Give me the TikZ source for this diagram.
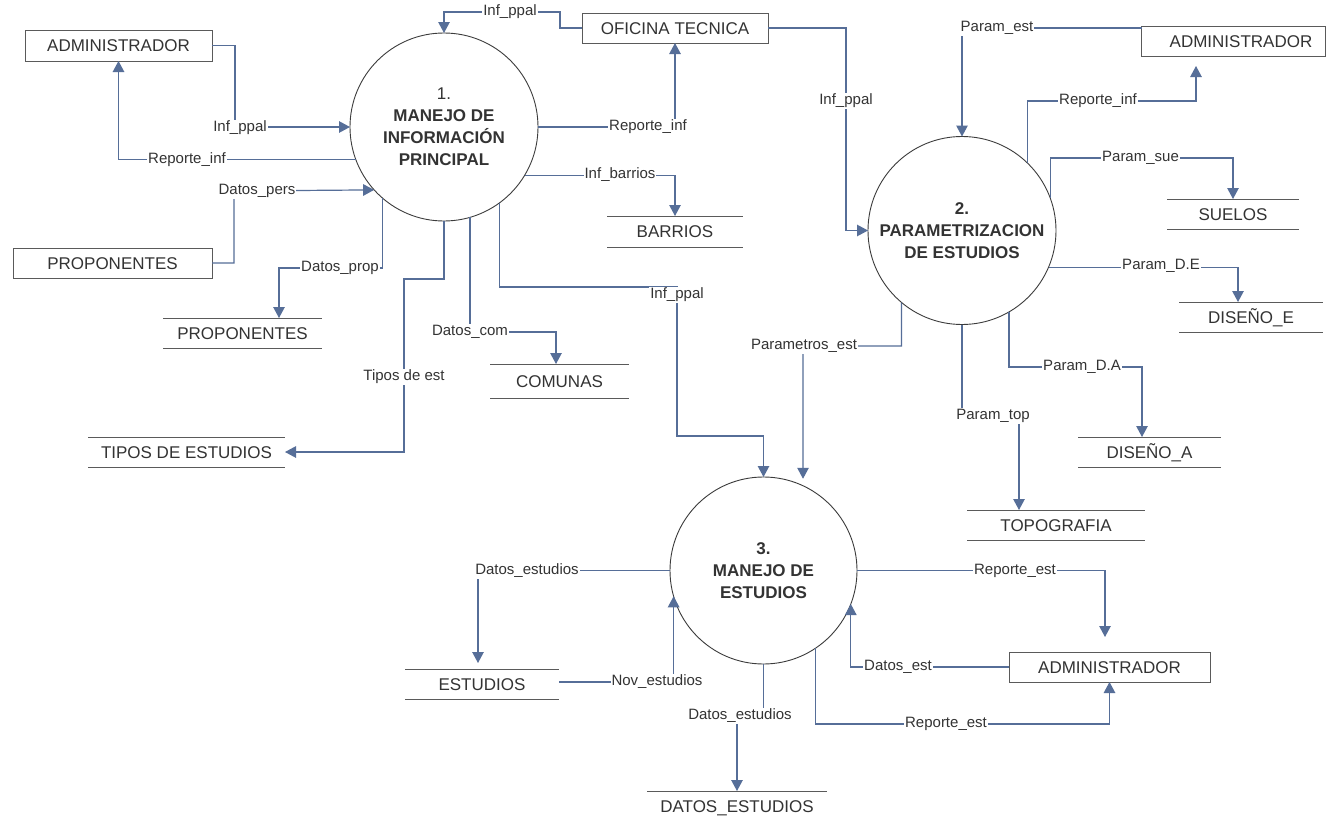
\documentclass[tikz,border=0pt]{standalone}
\usepackage{fontspec}
\setmainfont{Liberation Sans}
\usetikzlibrary{arrows.meta}
\definecolor{flowc}{RGB}{86,110,152}
\definecolor{txtc}{RGB}{51,51,51}
\definecolor{edgec}{RGB}{90,90,90}
\definecolor{ringc}{RGB}{60,60,60}

\begin{document}
\begin{tikzpicture}[x=1pt,y=-1pt,
  entity/.style={draw=edgec, line width=1pt, inner sep=0pt, outer sep=0pt, text=txtc,
    font=\fontsize{17}{20}\selectfont, text height=12.2pt, text depth=0pt},
  store/.style={inner sep=0pt, outer sep=0pt, text=txtc,
    font=\fontsize{17}{20}\selectfont, text height=12.2pt, text depth=0pt},
  storeline/.style={draw=edgec, line width=1pt},
  proc/.style={circle, draw=ringc, line width=0.9pt, minimum size=188pt, inner sep=0pt,
    outer sep=0pt, text=txtc, align=center, font=\fontsize{17}{22}\selectfont},
  flow/.style={draw=flowc, line width=1.2pt, -{Triangle[length=11pt,width=11.5pt]}},
  lbl/.style={fill=white, inner sep=1pt, text=txtc, font=\fontsize{15}{18}\selectfont,
    text height=11pt, text depth=3.3pt}]

\useasboundingbox (0,0) rectangle (1326,819);
\fill[white] (0,0) rectangle (1326,819);
\clip (0,0) rectangle (1326,819);

% processes
\node[proc] (p1) at (444,127) {1.\\\textbf{MANEJO DE}\\\textbf{INFORMACIÓN}\\\textbf{PRINCIPAL}};
\node[proc] (p2) at (962,230.5) {\textbf{2.}\\\textbf{PARAMETRIZACION}\\\textbf{DE ESTUDIOS}};
\node[proc, minimum size=187pt] (p3) at (763.5,570.5) {\textbf{3.}\\\textbf{MANEJO DE}\\\textbf{ESTUDIOS}};

% external entities
\node[entity, minimum width=187pt, minimum height=31pt] (adm1) at (118.5,45.5) {ADMINISTRADOR};
\node[entity, minimum width=199pt, minimum height=30pt] (prop1) at (112.5,263) {PROPONENTES};
\node[entity, minimum width=186pt, minimum height=30pt] (ot) at (675,28) {OFICINA TECNICA};
\node[entity, minimum width=184pt, minimum height=30pt] (adm2) at (1233.5,41) {\hspace*{15pt}ADMINISTRADOR};
\node[entity, minimum width=201pt, minimum height=30pt] (adm3) at (1109.5,667) {ADMINISTRADOR};

% data stores
\node[store, minimum width=136pt, minimum height=31pt] (sbar) at (675,231.5) {BARRIOS};
\node[store, minimum width=159pt, minimum height=30pt] (sprop) at (242.5,333) {PROPONENTES};
\node[store, minimum width=197pt, minimum height=30pt] (stipos) at (186.5,452) {TIPOS DE ESTUDIOS};
\node[store, minimum width=139pt, minimum height=34pt] (scom) at (559.5,381) {COMUNAS};
\node[store, minimum width=132pt, minimum height=30pt] (ssue) at (1233,214) {SUELOS};
\node[store, minimum width=144pt, minimum height=30pt] (sde) at (1251,317) {DISEÑO\_E};
\node[store, minimum width=143pt, minimum height=30pt] (sda) at (1149.5,452) {DISEÑO\_A};
\node[store, minimum width=178pt, minimum height=30pt] (stopo) at (1056,525) {TOPOGRAFIA};
\node[store, minimum width=154pt, minimum height=30pt] (sest) at (482,684) {ESTUDIOS};
\node[store, minimum width=180pt, minimum height=30pt] (sdat) at (737,806) {DATOS\_ESTUDIOS};

\foreach \s in {sbar,sprop,stipos,scom,ssue,sde,sda,stopo,sest,sdat}
  \draw[storeline] (\s.north west) -- (\s.north east) (\s.south west) -- (\s.south east);

% data flows around process 1
\draw[flow] (adm1.east) -| (235,127) -- (p1.west);
\draw[flow] (p1.200.6) -| (adm1.south);
\draw[flow] (prop1.east) -| (234,191) -- (p1.222.9);
\draw[flow] (p1.229.5) |- (279,268) -- ([xshift=36.5pt]sprop.north);
\draw[flow] (p1.south) |- (404,279) |- (stipos.east);
\draw[flow] (p1.286.1) |- (556,332) -- ([xshift=-3.5pt]scom.north);
\draw[flow] (p1.306.6) |- (677,287) |- (763.5,436) -- (p3.north);
\draw[flow] (p1.329.3) -| (sbar.north);
\draw[flow] (p1.east) -| (ot.south);
\draw[flow] (ot.west) -| (560,12) -| (p1.north);
\draw[flow] (ot.east) -| ([xshift=-22pt]p2.west) -- (p2.west);

% data flows around process 2
\draw[flow] ([yshift=13pt]adm2.west) -| (p2.north);
\draw[flow, shorten >=10pt] (p2.46.2) |- (1196,101) -- ([xshift=-37.5pt]adm2.south);
\draw[flow] (p2.20.6) |- (1233,158) -- (ssue.north);
\draw[flow] (p2.337.8) -| ([xshift=-13pt]sde.north);
\draw[flow] (p2.300) |- (1142,367) -- ([xshift=-7.5pt]sda.north);
\draw[flow] (p2.south) |- (1019,416) -- ([xshift=-37pt]stopo.north);
\draw[flow, shorten >=7pt] (p2.230.4) |- (803,346) -- (p3.65);

% data flows around process 3
\draw[flow, shorten >=6pt] (p3.west) -| ([xshift=-4pt]sest.north);
\draw[flow] ([yshift=2pt]sest.east) -| (p3.196.8);
\draw[flow] (p3.south) |- (737,716) -- (sdat.north);
\draw[flow, shorten >=15pt] (p3.east) -| ([xshift=-4.5pt]adm3.north);
\draw[flow] (adm3.west) -| (p3.339.3);
\draw[flow] (p3.304.9) |- (1109.5,724) -- (adm3.south);

% flow labels
\node[lbl] (l1) at (240,128) {Inf\_ppal};
\node[lbl] (l2) at (187,160) {Reporte\_inf};
\node[lbl] (l3) at (257,191) {Datos\_pers};
\node[lbl] (l4) at (340,268) {Datos\_prop};
\node[lbl] (l5) at (404,377) {Tipos de est};
\node[lbl] (l6) at (470,332) {Datos\_com};
\node[lbl] (l7) at (677,295) {Inf\_ppal};
\node[lbl] (l8) at (620,175) {Inf\_barrios};
\node[lbl] (l9) at (648,127) {Reporte\_inf};
\node[lbl] (l10) at (510,12) {Inf\_ppal};
\node[lbl] (l11) at (846,101) {Inf\_ppal};
\node[lbl] (l12) at (997,28) {Param\_est};
\node[lbl] (l13) at (1098,101) {Reporte\_inf};
\node[lbl] (l14) at (1140.5,158) {Param\_sue};
\node[lbl] (l15) at (1161,266) {Param\_D.E};
\node[lbl] (l16) at (1082,367) {Param\_D.A};
\node[lbl] (l17) at (993,416) {Param\_top};
\node[lbl] (l18) at (804,346) {Parametros\_est};
\node[lbl] (l19) at (527,571) {Datos\_estudios};
\node[lbl] (l20) at (657,682) {Nov\_estudios};
\node[lbl] (l21) at (740,716) {Datos\_estudios};
\node[lbl] (l22) at (1015,571) {Reporte\_est};
\node[lbl] (l23) at (898,667) {Datos\_est};
\node[lbl] (l24) at (946,724) {Reporte\_est};

\end{tikzpicture}
\end{document}
